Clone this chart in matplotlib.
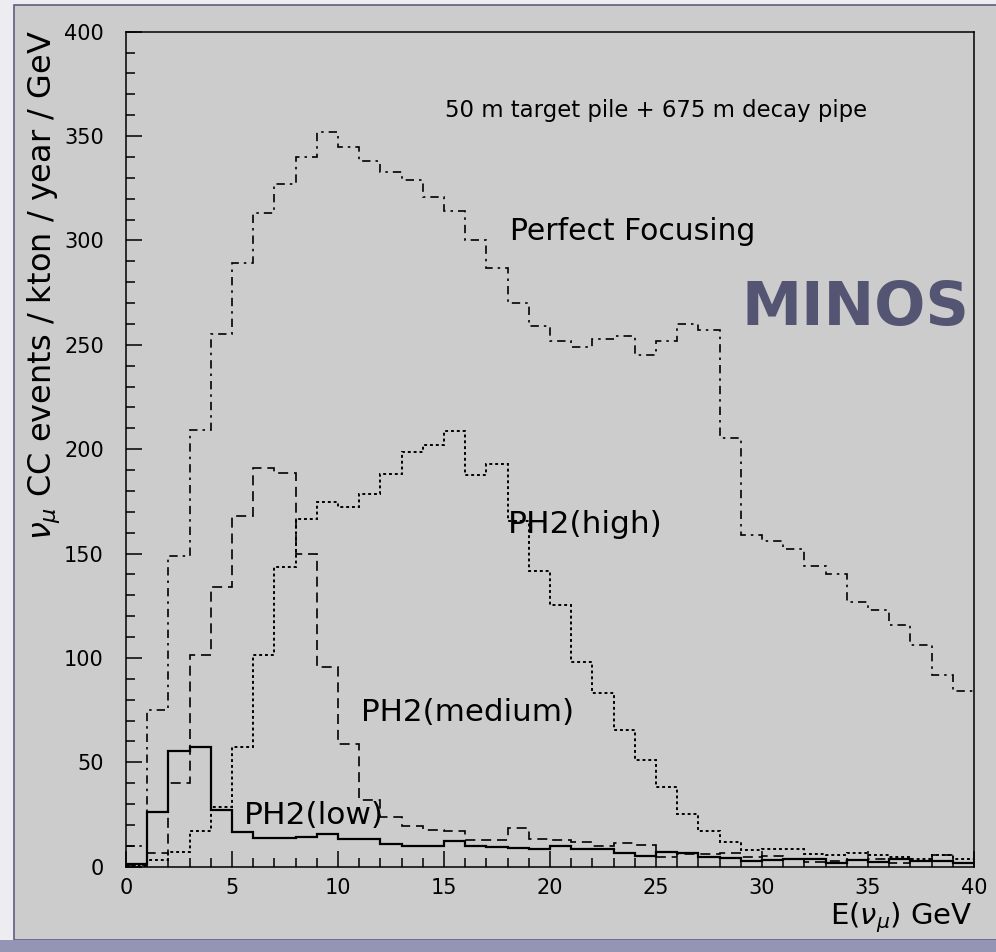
import numpy as np
import matplotlib
matplotlib.use("Agg")
from matplotlib import pyplot as plt
from matplotlib.patches import Rectangle
from matplotlib.ticker import MultipleLocator

# 1 GeV bins, 0..40 GeV
edges = np.arange(0, 41)

perfect_focusing = [10, 75, 149, 209, 255, 289, 313, 327, 340, 352,
                    345, 338, 333, 329, 321, 314, 300, 287, 270, 259,
                    252, 249, 253, 254, 245, 252, 260, 257, 205.5, 159,
                    156, 152, 144, 140, 127, 123, 116, 106, 92, 84]

ph2_high = [0.5, 3, 7, 17.3, 28.7, 57.5, 101.4, 143.4, 166.4, 174.9,
            172.2, 178.7, 188.1, 198.5, 202, 208.7, 187.6, 192.8, 165.8, 141.7,
            125.5, 97.9, 83, 65.5, 51.1, 38.3, 25.4, 17, 11.8, 8,
            8.5, 8.5, 5.9, 5.4, 6.4, 5.4, 4.6, 3.8, 5.4, 3.8]

ph2_medium = [0.8, 6.8, 40.2, 101.4, 134, 168, 190.8, 188.7, 149.6, 95.5,
              58.8, 32, 23.7, 19.5, 17.6, 17.3, 12.8, 13, 18.7, 13.4,
              12.7, 11.8, 10, 11.5, 10.4, 4.8, 6.2, 6.1, 6.4, 4.8,
              5.3, 3.8, 2.2, 2.5, 3.2, 3.8, 1.9, 2.5, 5.4, 1.9]

ph2_low = [1.3, 26, 55.4, 57.5, 27.3, 16.4, 13.6, 13.6, 14.4, 15.5,
           13.3, 13.3, 10.9, 10, 9.9, 12.5, 10, 9.6, 8.8, 8.6,
           9.7, 8.3, 8.3, 6.7, 5.3, 7, 6.4, 4.8, 4, 2.7,
           3.2, 3.8, 3.5, 1.9, 3.2, 2.2, 3.5, 2.5, 2.7, 1.9]

panel_color = "#cccccc"

plt.rcParams['font.family'] = ['DejaVu Sans']

fig = plt.figure(figsize=(9.96, 9.52), dpi=100, facecolor="#ededf1")

# slide panel + bottom strip
fig.patches.append(Rectangle((0.0141, 0.0126), 1.0, 0.9821, transform=fig.transFigure,
                             facecolor=panel_color, edgecolor="#5e5e80", linewidth=1.2, zorder=-10))
fig.patches.append(Rectangle((0.0, 0.0), 1.0, 0.0126, transform=fig.transFigure,
                             facecolor="#9494b4", edgecolor="none", zorder=-10))

ax = fig.add_axes([0.1265, 0.0896, 0.8514, 0.8771])
ax.set_facecolor(panel_color)

ax.stairs(perfect_focusing, edges, baseline=None, color="black", linewidth=1.2,
          linestyle=(0, (5, 3, 1.5, 3)))
ax.stairs(ph2_high, edges, baseline=None, color="black", linewidth=1.4,
          linestyle=(0, (1.5, 1.5)))
ax.stairs(ph2_medium, edges, baseline=None, color="black", linewidth=1.2,
          linestyle=(0, (6, 3.5)))
ax.stairs(ph2_low, edges, baseline=None, color="black", linewidth=1.6)

ax.set_xlim(0, 40)
ax.set_ylim(0, 400)

ax.xaxis.set_major_locator(MultipleLocator(5))
ax.xaxis.set_minor_locator(MultipleLocator(1))
ax.yaxis.set_major_locator(MultipleLocator(50))
ax.yaxis.set_minor_locator(MultipleLocator(10))

ax.tick_params(which='major', direction='in', length=11.5, width=1.1, labelsize=15)
ax.tick_params(which='minor', direction='in', length=6.3, width=1.1)
ax.tick_params(axis='y', which='major', pad=16)
ax.tick_params(axis='x', which='major', pad=8)
for s in ax.spines.values():
    s.set_linewidth(1.1)

ax.text(15.05, 359.3, "50 m target pile + 675 m decay pipe", fontsize=16.4, va='baseline')
ax.text(18.1, 300, "Perfect Focusing", fontsize=21.5, va='baseline')
ax.text(18.03, 159.7, "PH2(high)", fontsize=22.5, va='baseline')
ax.text(11.1, 69.8, "PH2(medium)", fontsize=22.3, va='baseline')
ax.text(5.57, 20.3, "PH2(low)", fontsize=22.5, va='baseline')

fig.text(0.7447, 0.6586, "MINOS", fontsize=43.5, fontweight='bold', color="#545473", va='baseline')

fig.text(0.044, 0.968, r"$\nu_\mu$ CC events / kton / year / GeV", rotation=90,
         fontsize=23, ha='center', va='top')
fig.text(0.9766, 1 - 924.3 / 952, r"E$(\nu_\mu)$ GeV", fontsize=21, ha='right', va='baseline')

fig.savefig("out.png", dpi=100, facecolor=fig.get_facecolor())
